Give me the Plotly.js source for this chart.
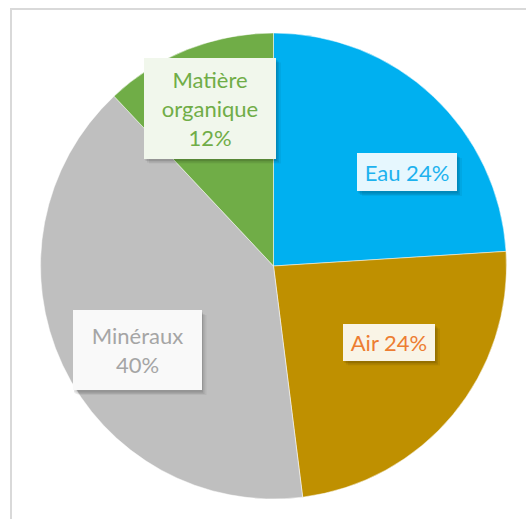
<!DOCTYPE html>
<html><head><meta charset="utf-8">
<script src="https://cdn.plot.ly/plotly-3.0.1.min.js"></script>
<style>html,body{margin:0;padding:0;background:#fff;}#chart{width:526px;height:519px;}</style>
</head><body><div id="chart"></div>
<script>
// Data
var categories = ["Eau", "Air", "Minéraux", "Matière organique"];
var values = [24, 24, 40, 12];

// Styles
var sliceColors = ["#00B0F0", "#BF9000", "#BFBFBF", "#70AD47"];
var textColors = ["#1DB2EE", "#ED7D31", "#A5A5A5", "#70AD47"];
var boxColors = ["#E6F7FE", "#F9F4E6", "#F9F9F9", "#F1F7EC"];
// label layout: [center x px, center y px, box w, box h, line break mode]
var labelLayout = [
  [407, 172, 100, 38, "inline"],
  [389, 342, 92, 37, "inline"],
  [137, 350, 129, 80, "twoline"],
  [210, 108, 132, 101, "words"]
];

var W = 526, H = 519;
function px(x){ return x / W; }
function py(y){ return 1 - y / H; }

var trace = {
  type: "pie",
  labels: categories,
  values: values,
  sort: false,
  direction: "clockwise",
  rotation: 0,
  textinfo: "none",
  marker: { colors: sliceColors, line: { color: "#ffffff", width: 0.5 } },
  domain: { x: [px(40.5), px(506.5)], y: [py(499), py(33)] },
  showlegend: false
};

var annotations = [];
var shapes = [
  { type: "line", xref: "paper", yref: "paper", x0: px(11), x1: px(11), y0: py(8), y1: -0.05, line: { color: "#D9D9D9", width: 2 } },
  { type: "line", xref: "paper", yref: "paper", x0: px(10), x1: 1.05, y0: py(9), y1: py(9), line: { color: "#D9D9D9", width: 2 } }
];
categories.forEach(function(cat, i){
  var L = labelLayout[i];
  var pct = values[i] + "%";
  var txt;
  if (L[4] === "inline") txt = cat + " " + pct;
  else if (L[4] === "twoline") txt = cat + "<br>" + pct;
  else txt = cat.split(" ").join("<br>") + "<br>" + pct;
  var x0 = L[0] - L[2] / 2, x1 = L[0] + L[2] / 2, y0 = L[1] - L[3] / 2, y1 = L[1] + L[3] / 2;
  // soft shadow layers
  [[5, 5, 0.05], [3, 4, 0.08], [1.5, 2.5, 0.10]].forEach(function(s){
    shapes.push({ type: "rect", xref: "paper", yref: "paper", layer: "above",
      x0: px(x0 + s[0]), x1: px(x1 + s[0]), y0: py(y0 + s[1]), y1: py(y1 + s[1]),
      fillcolor: "rgba(0,0,0," + s[2] + ")", line: { width: 0 } });
  });
  annotations.push({
    xref: "paper", yref: "paper", x: px(L[0]), y: py(L[1]),
    xanchor: "center", yanchor: "middle", showarrow: false,
    width: L[2], height: L[3], borderpad: 0, borderwidth: 0,
    align: "center", valign: "middle",
    text: txt, bgcolor: boxColors[i],
    font: { family: "Lato, 'Open Sans', sans-serif", size: 22, color: textColors[i] }
  });
});

var layout = {
  width: W, height: H,
  margin: { l: 0, r: 0, t: 0, b: 0 },
  paper_bgcolor: "#ffffff",
  showlegend: false,
  annotations: annotations,
  shapes: shapes
};

Plotly.newPlot("chart", [trace], layout, { displayModeBar: false, staticPlot: true });
</script>
</body></html>
